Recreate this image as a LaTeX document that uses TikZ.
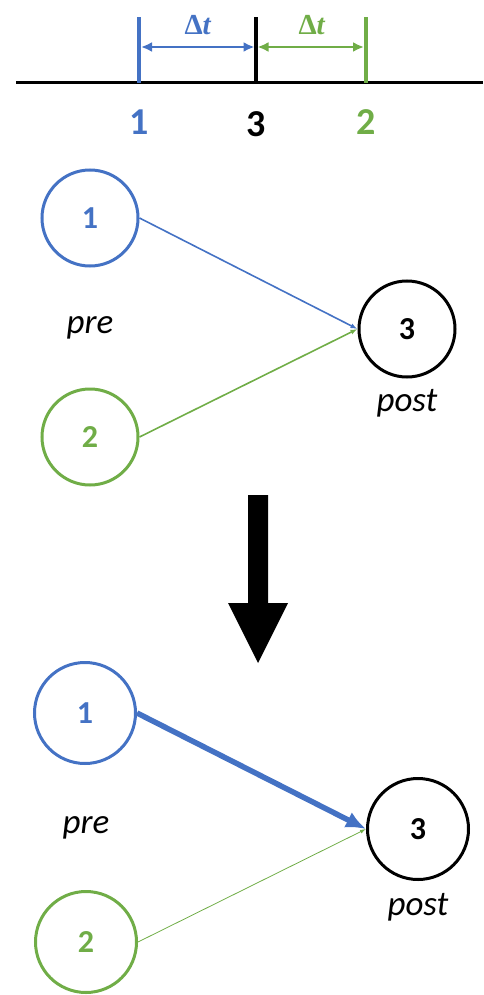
\documentclass[tikz,border=0pt]{standalone}
\usepackage{fontspec}
\setmainfont{Carlito}
\newfontfamily\dtfont{Liberation Serif}
\usetikzlibrary{arrows.meta}
\definecolor{pblue}{HTML}{4472C4}
\definecolor{pgreen}{HTML}{70AD47}
\begin{document}
\begin{tikzpicture}[x=1pt,y=-1pt,
  neuron/.style={circle,draw,line width=3pt,minimum size=96pt,inner sep=0pt,
    font=\fontsize{32}{32}\selectfont\bfseries},
  bigneuron/.style={neuron,minimum size=101pt},
  lbl/.style={font=\fontsize{35}{35}\selectfont\itshape},
  tick/.style={line width=3.2pt},
  tnum/.style={font=\fontsize{38}{38}\selectfont\bfseries},
  dt/.style={font=\dtfont\fontsize{29}{29}\selectfont\bfseries},
  dtarrow/.style={line width=2.2pt,{Latex[length=11pt,width=10pt]}-{Latex[length=11pt,width=10pt]}},
  syn/.style={line width=1.6pt,-{Latex[length=7pt,width=5pt]}}]
\useasboundingbox (0,0) rectangle (483,995);

% timeline with the three spike times
\coordinate (L) at (16,83);
\coordinate (R) at (483,83);
\draw[line width=3pt] (L) -- (R);
\coordinate (t1b) at (139,83); \coordinate (t1t) at (139,17);
\coordinate (t3b) at (256,83); \coordinate (t3t) at (256,17);
\coordinate (t2b) at (366,83); \coordinate (t2t) at (366,17);
\draw[tick,pblue] (t1b) -- (t1t);
\draw[tick] (t3b) -- (t3t);
\draw[tick,pgreen] (t2b) -- (t2t);
\coordinate (a1) at (141,47); \coordinate (a3) at (254.5,47);
\coordinate (a3g) at (257.5,47); \coordinate (a2) at (364,47);
\draw[dtarrow,pblue] (a1) -- (a3);
\draw[dtarrow,pgreen] (a3g) -- (a2);
\node[dt,text=pblue] (dt1) at (198,25) {Δ\textit{t}};
\node[dt,text=pgreen] (dt2) at (312,25) {Δ\textit{t}};
\node[tnum,text=pblue] (n1) at (139,122) {1};
\node[tnum] (n3) at (256,124) {3};
\node[tnum,text=pgreen] (n2) at (366,122) {2};

% network before plasticity
\node[neuron,pblue,text=pblue] (A1) at (90,218) {1};
\node[neuron,pgreen,text=pgreen] (A2) at (90,437) {2};
\node[neuron] (A3) at (407,329) {3};
\node[lbl] (Apre) at (90,328) {pre};
\node[lbl] (Apost) at (407,403) {post};
\draw[syn,pblue] (A1.east) -- (A3.west);
\draw[syn,pgreen] (A2.east) -- (A3.west);

% transition arrow
\fill (248,495) -- (268,495) -- (268,603) -- (288,603) -- (258,663)
      -- (228,603) -- (248,603) -- cycle;

% network after plasticity
\node[bigneuron,pblue,text=pblue] (B1) at (85,713) {1};
\node[bigneuron,pgreen,text=pgreen] (B2) at (86,942) {2};
\node[bigneuron] (B3) at (418,829) {3};
\node[lbl] (Bpre) at (86,828) {pre};
\node[lbl] (Bpost) at (418,907) {post};
\draw[pblue,line width=5.5pt,-{Latex[length=20pt,width=17pt]}] (B1.east) -- (B3.west);
\draw[pgreen,line width=0.8pt,-{Latex[length=6pt,width=4pt]}] (B2.east) -- (B3.west);
\end{tikzpicture}
\end{document}
